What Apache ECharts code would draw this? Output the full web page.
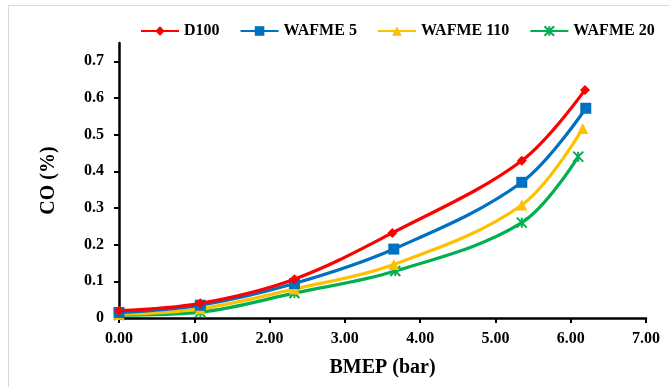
<!DOCTYPE html>
<html><head><meta charset="utf-8">
<script src="https://cdn.jsdelivr.net/npm/echarts@6/dist/echarts.min.js"></script>
<style>html,body{margin:0;padding:0;background:#fff}#c{width:669px;height:387px}</style>
</head><body><div id="c"></div>
<script>
var seriesNames = ['D100', 'WAFME 5', 'WAFME 110', 'WAFME 20'];
var xD100 = [0, 1.08, 2.33, 3.63, 5.35, 6.19];
var yD100 = [0.02, 0.040, 0.106, 0.232, 0.429, 0.622];
var xW5 = [0, 1.08, 2.33, 3.65, 5.35, 6.2];
var yW5 = [0.015, 0.035, 0.094, 0.188, 0.370, 0.572];
var xW110 = [0, 1.08, 2.33, 3.65, 5.35, 6.16];
var yW110 = [0.010, 0.025, 0.079, 0.146, 0.308, 0.517];
var xW20 = [0, 1.08, 2.33, 3.67, 5.35, 6.1];
var yW20 = [0.008, 0.016, 0.068, 0.128, 0.260, 0.440];
var xTicks = ['0.00','1.00','2.00','3.00','4.00','5.00','6.00','7.00'];

function pairs(xs, ys){ return xs.map(function(x,i){return [x, ys[i]];}); }
var colors = ['#FF0000', '#0070C0', '#FFC000', '#00B050'];
var symbols = ['diamond', 'rect', 'triangle', 'path://M0,0L10,10M10,0L0,10M5,0L5,10'];
var sizes = [10, 11, 11, 10];
var datasets = [pairs(xD100,yD100), pairs(xW5,yW5), pairs(xW110,yW110), pairs(xW20,yW20)];

var font = '"Liberation Serif", "Times New Roman", serif';
var chart = echarts.init(document.getElementById('c'));
chart.setOption({
  animation: false,
  graphic: [
    {type:'line', shape:{x1:8,y1:5.5,x2:669,y2:5.5}, style:{stroke:'#d9d9d9', lineWidth:1}},
    {type:'line', shape:{x1:8.5,y1:5,x2:8.5,y2:387}, style:{stroke:'#d9d9d9', lineWidth:1}}
  ],
  legend: {
    top: 18, left: 135, itemGap: 20, itemWidth: 38, itemHeight: 12,
    textStyle: {fontFamily: font, fontWeight: 'bold', fontSize: 16, color: '#000'},
    data: seriesNames
  },
  grid: {left: 119, right: 23, top: 43, bottom: 69},
  xAxis: {
    type: 'value', min: 0, max: 7, interval: 1,
    name: 'BMEP (bar)', nameLocation: 'middle', nameGap: 40,
    nameTextStyle: {fontFamily: font, fontWeight: 'bold', fontSize: 20, color: '#000'},
    axisLine: {lineStyle: {color: '#000', width: 2.5}},
    axisTick: {inside: false, length: 5, lineStyle: {color: '#000', width: 2}},
    axisLabel: {fontFamily: font, fontWeight: 'bold', fontSize: 16, color: '#000', margin: 13,
      formatter: function(v){ return xTicks[Math.round(v)]; }},
    splitLine: {show: false}
  },
  yAxis: {
    type: 'value', min: 0, max: 0.75, interval: 0.1,
    name: 'CO (%)', nameLocation: 'middle', nameGap: 60, nameRotate: 90,
    nameTextStyle: {fontFamily: font, fontWeight: 'bold', fontSize: 20, color: '#000'},
    axisLine: {show: true, lineStyle: {color: '#000', width: 2.5}},
    axisTick: {show: true, length: 5, lineStyle: {color: '#000', width: 2}},
    axisLabel: {fontFamily: font, fontWeight: 'bold', fontSize: 16, color: '#000', margin: 15,
      showMaxLabel: false,
      formatter: function(v){ return v === 0 ? '0' : v.toFixed(1); }},
    splitLine: {show: false}
  },
  series: seriesNames.map(function(n, i){
    return {
      name: n, type: 'line', data: datasets[i], smooth: 0.35,
      symbol: symbols[i], symbolSize: sizes[i], showAllSymbol: true,
      lineStyle: {color: colors[i], width: 3.2},
      itemStyle: i === 3 ? {color: colors[i], borderColor: colors[i], borderWidth: 2} : {color: colors[i]},
      z: 10 - i
    };
  })
});
</script></body></html>
